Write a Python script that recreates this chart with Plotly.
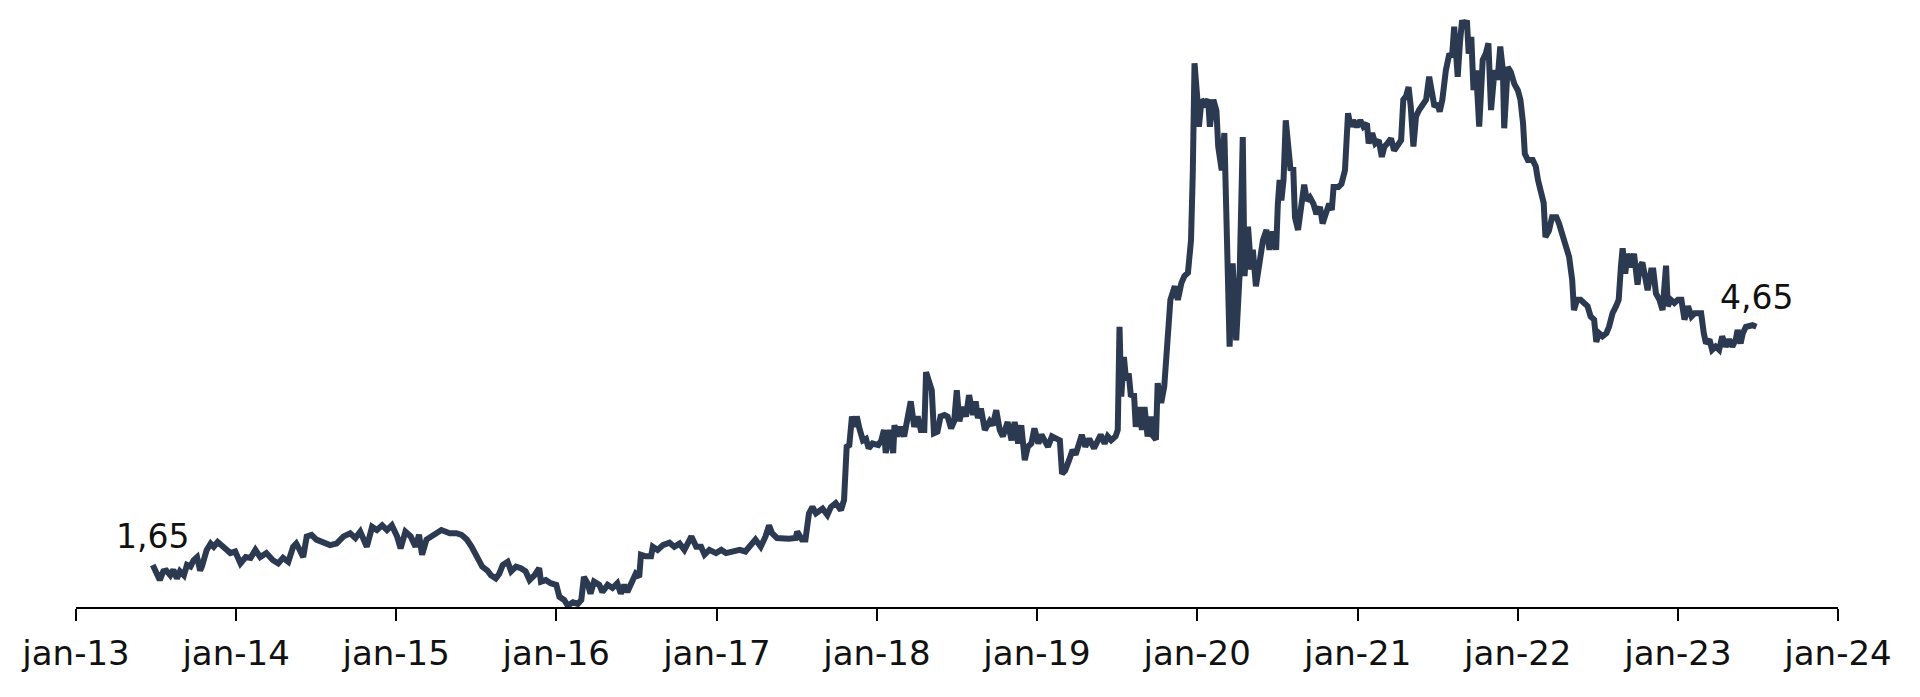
import plotly.graph_objects as go

##### data

dates = [
    # 2013
    '2013-06-25', '2013-07-04', '2013-07-11', '2013-07-19', '2013-07-26', '2013-08-04', '2013-08-11', '2013-08-19',
    '2013-08-26', '2013-09-04', '2013-09-11', '2013-09-19', '2013-09-26', '2013-10-04', '2013-10-11', '2013-10-15',
    '2013-10-26', '2013-11-04', '2013-11-11', '2013-11-20', '2013-11-30', '2013-12-11', '2013-12-19', '2013-12-30',
    # 2014
    '2014-01-11', '2014-01-23', '2014-02-03', '2014-02-14', '2014-02-25', '2014-03-11', '2014-03-26', '2014-04-07',
    '2014-04-18', '2014-04-30', '2014-05-11', '2014-05-18', '2014-05-26', '2014-06-03', '2014-06-11', '2014-06-22',
    '2014-07-03', '2014-07-18', '2014-08-03', '2014-08-18', '2014-09-03', '2014-09-18', '2014-09-30', '2014-10-11',
    '2014-10-26', '2014-11-07', '2014-11-18', '2014-11-30', '2014-12-11', '2014-12-22',
    # 2015
    '2015-01-03', '2015-01-11', '2015-01-22', '2015-02-03', '2015-02-14', '2015-02-22', '2015-03-01', '2015-03-11',
    '2015-03-22', '2015-04-03', '2015-04-14', '2015-05-03', '2015-05-18', '2015-05-30', '2015-06-11', '2015-06-22',
    '2015-07-03', '2015-07-16', '2015-07-28', '2015-08-05', '2015-08-16', '2015-08-24', '2015-09-01', '2015-09-12',
    '2015-09-20', '2015-10-01', '2015-10-12', '2015-10-23', '2015-11-01', '2015-11-12', '2015-11-23', '2015-11-27',
    '2015-12-08', '2015-12-19',
    # 2016
    '2016-01-01', '2016-01-08', '2016-01-19', '2016-01-27', '2016-02-08', '2016-02-19', '2016-02-27', '2016-03-04',
    '2016-03-12', '2016-03-19', '2016-03-27', '2016-04-08', '2016-04-15', '2016-04-27', '2016-05-08', '2016-05-19',
    '2016-05-27', '2016-06-04', '2016-06-11', '2016-06-23', '2016-06-30', '2016-07-08', '2016-07-12', '2016-07-23',
    '2016-08-04', '2016-08-08', '2016-08-19', '2016-08-31', '2016-09-15', '2016-09-26', '2016-10-08', '2016-10-19',
    '2016-11-04', '2016-11-15', '2016-11-26', '2016-12-04', '2016-12-15', '2016-12-30',
    # 2017
    '2017-01-11', '2017-01-22', '2017-02-07', '2017-02-22', '2017-03-07', '2017-03-18', '2017-03-30', '2017-04-11',
    '2017-04-22', '2017-04-30', '2017-05-07', '2017-05-18', '2017-06-03', '2017-06-14', '2017-06-30', '2017-07-03',
    '2017-07-14', '2017-07-22', '2017-07-30', '2017-08-07', '2017-08-15', '2017-08-30', '2017-09-10', '2017-09-18',
    '2017-09-29', '2017-10-11', '2017-10-18', '2017-10-24', '2017-10-30', '2017-11-05', '2017-11-11', '2017-11-16',
    '2017-11-22', '2017-11-30', '2017-12-07', '2017-12-13', '2017-12-22',
    # 2018
    '2018-01-04', '2018-01-11', '2018-01-17', '2018-01-21', '2018-01-30', '2018-02-07', '2018-02-10', '2018-02-17',
    '2018-02-24', '2018-03-04', '2018-03-11', '2018-03-19', '2018-03-27', '2018-04-04', '2018-04-11', '2018-04-19',
    '2018-04-23', '2018-04-30', '2018-05-06', '2018-05-11', '2018-05-19', '2018-05-26', '2018-06-04', '2018-06-11',
    '2018-06-19', '2018-06-26', '2018-07-02', '2018-07-08', '2018-07-15', '2018-07-23', '2018-07-30', '2018-08-08',
    '2018-08-14', '2018-08-19', '2018-08-26', '2018-09-04', '2018-09-15', '2018-09-22', '2018-09-30', '2018-10-08',
    '2018-10-15', '2018-10-26', '2018-11-04', '2018-11-11', '2018-11-19', '2018-11-26', '2018-12-04', '2018-12-11',
    '2018-12-19', '2018-12-26',
    # 2019
    '2019-01-04', '2019-01-11', '2019-01-19', '2019-01-26', '2019-02-04', '2019-02-15', '2019-02-22', '2019-02-27',
    '2019-03-06', '2019-03-15', '2019-03-23', '2019-03-30', '2019-04-06', '2019-04-13', '2019-04-21', '2019-04-30',
    '2019-05-11', '2019-05-19', '2019-05-26', '2019-06-04', '2019-06-11', '2019-06-19', '2019-06-29', '2019-07-04',
    '2019-07-08', '2019-07-12', '2019-07-18', '2019-07-23', '2019-07-29', '2019-08-03', '2019-08-10', '2019-08-14',
    '2019-08-22', '2019-08-28', '2019-09-03', '2019-09-10', '2019-09-18', '2019-09-23', '2019-09-29', '2019-10-03',
    '2019-10-11', '2019-10-18', '2019-10-22', '2019-10-26', '2019-11-01', '2019-11-11', '2019-11-18', '2019-11-26',
    '2019-12-03', '2019-12-11', '2019-12-18', '2019-12-22', '2019-12-26',
    # 2020
    '2020-01-01', '2020-01-05', '2020-01-11', '2020-01-18', '2020-01-26', '2020-01-30', '2020-02-07', '2020-02-14',
    '2020-02-18', '2020-02-26', '2020-03-03', '2020-03-07', '2020-03-11', '2020-03-15', '2020-03-22', '2020-03-30',
    '2020-04-07', '2020-04-14', '2020-04-18', '2020-04-26', '2020-05-03', '2020-05-07', '2020-05-14', '2020-05-22',
    '2020-05-30', '2020-06-07', '2020-06-14', '2020-06-22', '2020-06-29', '2020-07-03', '2020-07-07', '2020-07-11',
    '2020-07-16', '2020-07-21', '2020-07-26', '2020-08-01', '2020-08-07', '2020-08-11', '2020-08-18', '2020-08-26',
    '2020-09-01', '2020-09-07', '2020-09-14', '2020-09-22', '2020-09-29', '2020-10-07', '2020-10-13', '2020-10-20',
    '2020-10-28', '2020-11-03', '2020-11-07', '2020-11-18', '2020-11-25', '2020-12-03', '2020-12-07', '2020-12-10',
    '2020-12-16', '2020-12-22', '2020-12-30',
    # 2021
    '2021-01-07', '2021-01-14', '2021-01-22', '2021-01-26', '2021-02-03', '2021-02-10', '2021-02-18', '2021-02-25',
    '2021-03-03', '2021-03-10', '2021-03-18', '2021-03-25', '2021-04-03', '2021-04-10', '2021-04-15', '2021-04-21',
    '2021-04-27', '2021-05-02', '2021-05-08', '2021-05-14', '2021-05-21', '2021-05-29', '2021-06-06', '2021-06-13',
    '2021-06-19', '2021-06-25', '2021-07-02', '2021-07-07', '2021-07-13', '2021-07-21', '2021-07-29', '2021-08-04',
    '2021-08-09', '2021-08-17', '2021-08-22', '2021-08-27', '2021-09-01', '2021-09-07', '2021-09-11', '2021-09-17',
    '2021-09-22', '2021-09-28', '2021-10-05', '2021-10-13', '2021-10-20', '2021-10-26', '2021-11-01', '2021-11-09',
    '2021-11-16', '2021-11-22', '2021-11-28', '2021-12-01', '2021-12-09', '2021-12-16', '2021-12-24',
    # 2022
    '2022-01-01', '2022-01-07', '2022-01-13', '2022-01-17', '2022-01-24', '2022-02-04', '2022-02-11', '2022-02-16',
    '2022-02-24', '2022-03-01', '2022-03-05', '2022-03-13', '2022-03-20', '2022-03-30', '2022-04-05', '2022-04-13',
    '2022-04-20', '2022-04-28', '2022-05-05', '2022-05-09', '2022-05-16', '2022-05-24', '2022-06-01', '2022-06-09',
    '2022-06-16', '2022-06-24', '2022-06-29', '2022-07-05', '2022-07-13', '2022-07-22', '2022-07-28', '2022-08-05',
    '2022-08-13', '2022-08-19', '2022-08-24', '2022-08-28', '2022-09-03', '2022-09-08', '2022-09-16', '2022-09-23',
    '2022-10-01', '2022-10-06', '2022-10-12', '2022-10-18', '2022-10-24', '2022-11-01', '2022-11-06', '2022-11-12',
    '2022-11-20', '2022-11-27', '2022-12-05', '2022-12-09', '2022-12-16', '2022-12-24',
    # 2023
    '2023-01-01', '2023-01-09', '2023-01-16', '2023-01-24', '2023-02-01', '2023-02-08', '2023-02-16', '2023-02-23',
    '2023-03-01', '2023-03-06', '2023-03-14', '2023-03-20', '2023-03-28', '2023-04-05', '2023-04-12', '2023-04-20',
    '2023-04-28', '2023-05-05', '2023-05-13', '2023-05-17', '2023-05-24', '2023-05-29', '2023-06-05', '2023-06-13',
    '2023-06-20', '2023-06-29',
]

prices = [
    # 2013
    1.65, 1.52, 1.46, 1.57, 1.58, 1.52, 1.59, 1.48,
    1.57, 1.52, 1.65, 1.63, 1.71, 1.75, 1.58, 1.63,
    1.84, 1.92, 1.88, 1.94, 1.90, 1.84, 1.80, 1.82,
    # 2014
    1.67, 1.75, 1.74, 1.84, 1.75, 1.80, 1.71, 1.67,
    1.74, 1.69, 1.88, 1.92, 1.84, 1.75, 2.01, 2.03,
    1.97, 1.94, 1.90, 1.92, 2.01, 2.05, 1.99, 2.07,
    1.88, 2.13, 2.09, 2.15, 2.09, 2.15,
    # 2015
    2.01, 1.86, 2.07, 2.01, 1.88, 2.03, 1.78, 1.97,
    2.01, 2.07, 2.09, 2.05, 2.05, 2.03, 1.97, 1.88,
    1.78, 1.63, 1.58, 1.52, 1.48, 1.54, 1.65, 1.69,
    1.57, 1.63, 1.61, 1.57, 1.46, 1.52, 1.61, 1.44,
    1.46, 1.42,
    # 2016
    1.40, 1.25, 1.21, 1.14, 1.18, 1.16, 1.21, 1.50,
    1.42, 1.29, 1.44, 1.40, 1.31, 1.40, 1.36, 1.42,
    1.29, 1.40, 1.31, 1.44, 1.54, 1.50, 1.78, 1.76,
    1.76, 1.88, 1.84, 1.90, 1.93, 1.88, 1.92, 1.84,
    2.01, 1.88, 1.88, 1.78, 1.84, 1.80,
    # 2017
    1.84, 1.80, 1.82, 1.84, 1.82, 1.90, 1.97, 1.88,
    2.01, 2.15, 2.05, 1.99, 1.98, 1.98, 1.99, 2.07,
    1.97, 1.97, 2.30, 2.38, 2.30, 2.36, 2.28, 2.38,
    2.43, 2.34, 2.47, 3.14, 3.16, 3.52, 3.39, 3.52,
    3.37, 3.22, 3.24, 3.12, 3.18,
    # 2018
    3.16, 3.22, 3.35, 3.06, 3.35, 3.06, 3.41, 3.27,
    3.39, 3.27, 3.46, 3.71, 3.39, 3.52, 3.35, 3.35,
    4.08, 3.98, 3.85, 3.31, 3.33, 3.52, 3.54, 3.52,
    3.37, 3.46, 3.85, 3.46, 3.64, 3.52, 3.79, 3.54,
    3.71, 3.50, 3.62, 3.35, 3.46, 3.41, 3.60, 3.35,
    3.27, 3.45, 3.22, 3.45, 3.18, 3.41, 2.97, 3.14,
    3.18, 3.37,
    # 2019
    3.18, 3.29, 3.22, 3.14, 3.27, 3.24, 3.22, 2.80,
    2.84, 2.97, 3.10, 3.04, 3.14, 3.29, 3.14, 3.24,
    3.12, 3.22, 3.29, 3.18, 3.27, 3.22, 3.27, 3.35,
    4.65, 3.77, 4.27, 3.98, 4.06, 3.77, 3.81, 3.39,
    3.64, 3.35, 3.64, 3.27, 3.52, 3.27, 3.23, 3.94,
    3.69, 3.90, 4.31, 4.48, 4.99, 5.16, 4.99, 5.20,
    5.29, 5.33, 5.74, 6.58, 7.97,
    # 2020
    7.55, 7.17, 7.51, 7.46, 7.51, 7.17, 7.51, 7.37,
    6.92, 6.62, 7.09, 5.95, 5.24, 4.40, 5.45, 4.48,
    5.33, 7.04, 5.29, 5.91, 5.37, 5.62, 5.16, 5.41,
    5.74, 5.87, 5.62, 5.85, 5.62, 6.20, 6.50, 6.24,
    6.50, 7.25, 6.87, 6.62, 6.66, 6.03, 5.87, 6.28,
    6.44, 6.24, 6.28, 6.20, 6.07, 6.16, 5.95, 6.07,
    6.20, 6.12, 6.41, 6.41, 6.45, 6.62, 7.09, 7.34,
    7.17, 7.25, 7.17,
    # 2021
    7.25, 7.17, 7.21, 6.96, 7.09, 6.96, 7.00, 6.79,
    6.92, 6.96, 7.02, 6.87, 6.96, 7.00, 7.51, 7.55,
    7.67, 7.42, 6.92, 7.30, 7.38, 7.46, 7.51, 7.80,
    7.59, 7.42, 7.46, 7.36, 7.51, 7.88, 8.09, 8.05,
    8.43, 7.80, 8.22, 8.51, 8.43, 8.51, 8.09, 8.30,
    7.63, 7.88, 7.17, 8.01, 8.09, 8.22, 7.38, 7.88,
    7.76, 8.18, 7.88, 7.15, 7.92, 7.86, 7.71,
    # 2022
    7.63, 7.51, 7.21, 6.83, 6.75, 6.75, 6.67, 6.50,
    6.33, 6.21, 5.78, 5.86, 6.03, 6.03, 5.95, 5.82,
    5.65, 5.53, 5.24, 4.86, 4.99, 4.99, 4.95, 4.91,
    4.78, 4.74, 4.46, 4.57, 4.53, 4.57, 4.65, 4.82,
    4.91, 4.99, 5.40, 5.64, 5.32, 5.57, 5.40, 5.57,
    5.18, 5.40, 5.46, 5.32, 5.11, 5.36, 5.36, 5.07,
    4.99, 4.86, 5.42, 4.91, 4.99, 4.95,
    # 2023
    4.99, 4.99, 4.74, 4.91, 4.78, 4.82, 4.82, 4.82,
    4.57, 4.44, 4.49, 4.36, 4.40, 4.36, 4.53, 4.40,
    4.49, 4.40, 4.49, 4.61, 4.44, 4.57, 4.65, 4.67,
    4.67, 4.65,
]

tick_dates = ['2013-01-01', '2014-01-01', '2015-01-01', '2016-01-01', '2017-01-01', '2018-01-01',
              '2019-01-01', '2020-01-01', '2021-01-01', '2022-01-01', '2023-01-01', '2024-01-01']
tick_labels = ['jan-13', 'jan-14', 'jan-15', 'jan-16', 'jan-17', 'jan-18',
               'jan-19', 'jan-20', 'jan-21', 'jan-22', 'jan-23', 'jan-24']

line_color = '#2c3a51'
text_color = '#111111'
font_family = 'DejaVu Sans'

fig = go.Figure(
    go.Scatter(
        x=dates,
        y=prices,
        mode='lines',
        line=dict(color=line_color, width=6),
        hoverinfo='x+y',
    )
)

# first / last value labels
for d, v in [(dates[0], prices[0]), (dates[-1], prices[-1])]:
    fig.add_annotation(
        x=d, y=v,
        text=f'{v:.2f}'.replace('.', ','),
        showarrow=False,
        yshift=29,
        font=dict(family=font_family, size=33, color=text_color),
    )

# page body has an 8px margin, so the figure is a bit smaller than the window
fig.update_layout(
    width=1904,
    height=681,
    margin=dict(l=68, r=74, t=0, b=82),
    paper_bgcolor='white',
    plot_bgcolor='white',
    showlegend=False,
    font=dict(family=font_family, size=34, color=text_color),
    xaxis=dict(
        type='date',
        range=['2013-01-01', '2024-01-01'],
        tickvals=tick_dates,
        ticktext=tick_labels,
        showgrid=False,
        zeroline=False,
        showline=True,
        linecolor='black',
        linewidth=1.5,
        ticks='outside',
        ticklen=12,
        tickwidth=1.5,
        tickcolor='black',
        ticklabelstandoff=3,
        tickfont=dict(family=font_family, size=34, color=text_color),
    ),
    yaxis=dict(
        range=[1.121, 8.665],
        visible=False,
        showgrid=False,
        zeroline=False,
    ),
)

fig.write_html('out.html')
